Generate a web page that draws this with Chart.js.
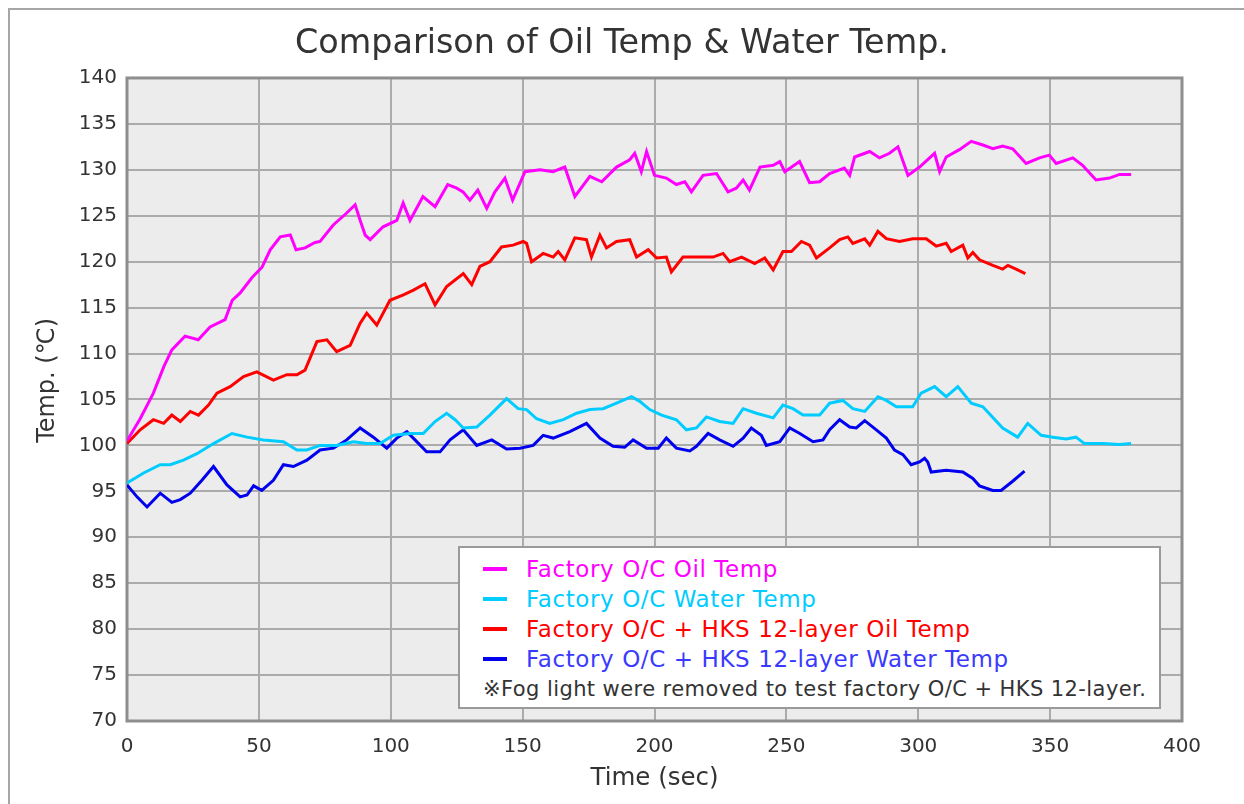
<!DOCTYPE html>
<html>
<head>
<meta charset="utf-8">
<script src="https://cdn.jsdelivr.net/npm/chart.js@4"></script>
<style>
  html, body { margin: 0; padding: 0; background: #fff; overflow: hidden; }
  #wrap { position: relative; width: 1244px; height: 804px; }
  #chart { position: absolute; left: 0; top: 0; }
  #frame { position: absolute; left: 8px; top: 8px; width: 1300px; height: 900px; border: 2px solid #a6a6a6; box-sizing: border-box; pointer-events: none; }
  #legend { position: absolute; left: 458px; top: 546px; width: 703px; height: 163px; box-sizing: border-box;
            border: 2px solid #9a9a9a; background: #fff; font-family: 'DejaVu Sans', sans-serif; font-size: 23px;
            letter-spacing: 0.6px; padding: 6px 0 0 23px; }
  .row { height: 30px; white-space: nowrap; display: flex; align-items: center; }
  .mark { display: inline-block; width: 24px; height: 4px; margin-right: 19px; }
  .note { color: #333; font-size: 21px; letter-spacing: 0.42px; }
</style>
</head>
<body>
<div id="wrap">
  <canvas id="chart" width="1244" height="804"></canvas>
  <div id="legend"></div>
  <div id="frame"></div>
</div>
<script>
const titleText = 'Comparison of Oil Temp & Water Temp.';
const xTitle = 'Time (sec)';
const yTitle = 'Temp. (\u2103)';
const noteText = '\u203BFog light were removed to test factory O/C + HKS 12-layer.';

const seriesNames = [
  'Factory O/C Oil Temp',
  'Factory O/C Water Temp',
  'Factory O/C + HKS 12-layer Oil Temp',
  'Factory O/C + HKS 12-layer Water Temp'
];
const seriesColors = ['#ff00ff', '#00ccff', '#ff0000', '#0000ee'];
const legendTextColors = ['#ff00ff', '#00ccff', '#ff0000', '#3a3aff'];

const oilFactoryTime = [0, 5, 10, 14, 17, 22, 27, 31.5, 37.2, 39.9,
  42.9, 47.5, 51.2, 54.3, 58.1, 61.9, 64.1, 67.5, 71.3, 73.2,
  78.2, 83.3, 86.5, 88.4, 90.3, 92.2, 97.1, 102.3, 104.7, 107.3,
  112.2, 116.8, 121.6, 125, 127.4, 130, 133, 136.4, 139.5, 143.3,
  146.2, 150.9, 156.6, 161.5, 166, 169.8, 175.5, 180, 185.6, 190.6,
  192.5, 195, 197, 200, 204.5, 208.3, 211.5, 214, 218.4, 223.5,
  227.9, 231, 233.6, 236, 240, 245, 247.5, 249.4, 255, 258.8,
  262.6, 266.4, 272, 274, 275.9, 281.6, 285.3, 289.1, 292.3, 296.1,
  300.5, 306.2, 308.1, 310.6, 315.6, 320.1, 324.5, 328.3, 332, 335.8,
  340.9, 346, 349.7, 352.3, 358.6, 362.3, 367.4, 372.5, 376.3, 380.7];
const oilFactoryTemp = [100.5, 102.9, 105.7, 108.6, 110.4, 111.9, 111.5, 112.9, 113.7, 115.8,
  116.6, 118.3, 119.4, 121.3, 122.7, 122.9, 121.3, 121.5, 122.1, 122.2,
  124.0, 125.3, 126.2, 124.5, 122.9, 122.4, 123.8, 124.5, 126.4, 124.5,
  127.1, 126.0, 128.4, 128.0, 127.6, 126.7, 127.8, 125.8, 127.6, 129.1,
  126.7, 129.8, 130.0, 129.8, 130.3, 127.1, 129.3, 128.7, 130.3, 131.1,
  131.8, 129.8, 132.0, 129.4, 129.1, 128.4, 128.7, 127.6, 129.4, 129.6,
  127.6, 128.0, 128.9, 127.8, 130.3, 130.5, 130.9, 129.8, 130.9, 128.6,
  128.7, 129.6, 130.2, 129.4, 131.4, 132.0, 131.3, 131.8, 132.5, 129.4,
  130.3, 131.8, 129.8, 131.4, 132.2, 133.1, 132.7, 132.3, 132.6, 132.3,
  130.7, 131.3, 131.6, 130.7, 131.3, 130.5, 128.9, 129.1, 129.5, 129.5];

const waterFactoryTime = [0, 6.3, 12.6, 16.4, 21.4, 26.5, 32.8, 39.8, 45.5, 51.7,
  59.3, 64.4, 68.2, 73.2, 79.5, 85.8, 90.9, 95.9, 101, 107.3,
  112.3, 116.8, 121.2, 124.4, 127.5, 132.6, 137.6, 143.9, 148.3, 151.5,
  155.3, 160.3, 165.4, 170.5, 175.5, 180.5, 185.6, 191.3, 194.4, 198.2,
  202.7, 208.3, 212.1, 215.9, 219.7, 224.7, 229.8, 233.6, 238.6, 245,
  248.7, 252.5, 256.3, 262.6, 266.4, 271.4, 275.2, 279.7, 284.7, 287.9,
  291.7, 297.9, 301.1, 306.2, 310.6, 315, 320.1, 324.5, 332, 337.7,
  341.5, 346.6, 351, 356.1, 359.8, 363, 369.9, 376.3, 380.7];
const waterFactoryTemp = [95.9, 97.0, 97.9, 97.9, 98.4, 99.1, 100.2, 101.3, 100.9, 100.6,
  100.4, 99.5, 99.5, 100.0, 100.0, 100.4, 100.2, 100.2, 101.1, 101.3,
  101.3, 102.6, 103.5, 102.8, 101.9, 102.0, 103.3, 105.1, 104.0, 103.9,
  102.9, 102.4, 102.8, 103.5, 103.9, 104.0, 104.6, 105.3, 104.8, 103.9,
  103.3, 102.8, 101.7, 101.9, 103.1, 102.6, 102.4, 104.0, 103.5, 103.0,
  104.4, 104.0, 103.3, 103.3, 104.6, 104.9, 104.0, 103.7, 105.3, 104.9,
  104.2, 104.2, 105.7, 106.4, 105.3, 106.4, 104.6, 104.2, 101.9, 100.9,
  102.4, 101.1, 100.9, 100.7, 100.9, 100.2, 100.2, 100.1, 100.2];

const oilHksTime = [0, 5, 10, 13.9, 17, 20.2, 24, 27.1, 30.9, 34.1,
  39.1, 44.2, 49.2, 55.5, 60.6, 64.4, 67.5, 72, 75.8, 79.5,
  84.6, 88.4, 90.9, 94.7, 99.7, 104.8, 108.6, 113, 116.8, 121.2,
  127.5, 130.7, 133.8, 137.6, 142, 146.4, 150.2, 151.5, 153.4, 157.8,
  161.6, 163.5, 166, 169.8, 174.2, 176.1, 179.3, 181.8, 185.6, 190.6,
  193.2, 197.6, 200.8, 204.5, 206.4, 210.8, 217.2, 222.2, 226, 228.5,
  233, 238, 241.8, 245, 248.7, 251.9, 255.7, 258.8, 261.4, 266.4,
  270.2, 273.3, 275.2, 279.7, 281.6, 284.7, 287.9, 292.9, 297.9, 303,
  306.8, 310.6, 312.5, 316.9, 318.8, 320.7, 323.2, 328.3, 332, 334,
  337.1, 340.6];
const oilHksTemp = [100.2, 101.7, 102.8, 102.4, 103.3, 102.6, 103.7, 103.3, 104.4, 105.7,
  106.4, 107.5, 108.0, 107.1, 107.7, 107.7, 108.2, 111.3, 111.5, 110.2,
  110.9, 113.3, 114.4, 113.1, 115.8, 116.4, 116.9, 117.6, 115.3, 117.3,
  118.7, 117.5, 119.5, 120.0, 121.6, 121.8, 122.2, 122.0, 120.0, 120.9,
  120.5, 121.1, 120.2, 122.6, 122.4, 120.5, 122.9, 121.5, 122.2, 122.4,
  120.5, 121.3, 120.4, 120.5, 118.9, 120.5, 120.5, 120.5, 120.9, 120.0,
  120.5, 119.8, 120.4, 119.1, 121.1, 121.1, 122.2, 121.8, 120.4, 121.5,
  122.4, 122.7, 122.0, 122.5, 121.8, 123.3, 122.5, 122.2, 122.5, 122.5,
  121.7, 122.0, 121.1, 121.8, 120.4, 121.0, 120.2, 119.6, 119.2, 119.6,
  119.2, 118.7];

const waterHksTime = [0, 3.8, 7.6, 12.6, 17, 20.2, 24, 28.4, 32.8, 37.9,
  42.9, 45.5, 48, 51.1, 55.5, 59.3, 63.1, 68.2, 73.2, 78.3,
  83.3, 88.4, 93.4, 98.5, 102.3, 106.1, 109.2, 113.6, 118.7, 122.5,
  127.5, 132.6, 138.3, 143.9, 149, 154, 157.8, 161.6, 167.9, 174.2,
  179.3, 184.3, 188.7, 191.9, 197, 201.4, 204.5, 208.3, 213.4, 215.9,
  220.3, 224.7, 229.8, 233.6, 236.7, 240.5, 242.4, 247.5, 251.3, 255.1,
  260.1, 263.9, 266.4, 270.2, 274, 276.5, 279.7, 284.1, 287.9, 291,
  294.2, 297.3, 300.5, 302.4, 303.6, 304.9, 310.6, 316.9, 320.7, 323.2,
  328.3, 331.4, 335.8, 340.3];
const waterHksTemp = [95.7, 94.4, 93.3, 94.8, 93.8, 94.1, 94.8, 96.2, 97.7, 95.7,
  94.4, 94.6, 95.6, 95.1, 96.2, 97.9, 97.7, 98.4, 99.5, 99.7,
  100.6, 101.9, 100.9, 99.7, 100.8, 101.5, 100.6, 99.3, 99.3, 100.6,
  101.7, 100.0, 100.6, 99.6, 99.7, 100.0, 101.1, 100.8, 101.5, 102.4,
  100.8, 99.9, 99.8, 100.6, 99.7, 99.7, 100.8, 99.7, 99.4, 99.9,
  101.3, 100.6, 99.9, 100.8, 101.9, 101.1, 100.0, 100.4, 101.9, 101.3,
  100.4, 100.6, 101.7, 102.8, 102.0, 101.9, 102.7, 101.7, 100.8, 99.5,
  99.0, 97.9, 98.2, 98.6, 98.2, 97.1, 97.3, 97.1, 96.4, 95.6,
  95.1, 95.1, 96.1, 97.2];

const xMin = 0, xMax = 400, xStep = 50;
const yMin = 70, yMax = 140, yStep = 5;

const seriesTimes = [oilFactoryTime, waterFactoryTime, oilHksTime, waterHksTime];
const seriesTemps = [oilFactoryTemp, waterFactoryTemp, oilHksTemp, waterHksTemp];

const FONT = "'DejaVu Sans', 'Noto Sans CJK JP', sans-serif";

const plotFrame = {
  id: 'plotFrame',
  beforeDraw(chart) {
    const { ctx, chartArea: a } = chart;
    ctx.save();
    ctx.fillStyle = '#ececec';
    ctx.fillRect(a.left, a.top, a.right - a.left, a.bottom - a.top);
    ctx.restore();
  },
  beforeDatasetsDraw(chart) {
    const { ctx, chartArea: a } = chart;
    ctx.save();
    ctx.strokeStyle = '#8e8e8e';
    ctx.lineWidth = 3;
    ctx.strokeRect(a.left, a.top, a.right - a.left, a.bottom - a.top);
    ctx.restore();
  }
};

new Chart(document.getElementById('chart'), {
  type: 'line',
  data: {
    datasets: seriesNames.map((name, k) => ({
      label: name,
      data: seriesTimes[k].map((t, i) => ({ x: t, y: seriesTemps[k][i] })),
      borderColor: seriesColors[k],
      backgroundColor: seriesColors[k],
      borderWidth: 3,
      pointRadius: 0,
      tension: 0,
      fill: false
    }))
  },
  options: {
    responsive: false,
    animation: false,
    layout: { padding: 0 },
    plugins: {
      legend: { display: false },
      tooltip: { enabled: false },
      title: {
        display: true, text: titleText, color: '#333',
        font: { family: FONT, size: 33.4, weight: 'normal' },
        padding: { top: 24, bottom: 13.9 }
      }
    },
    scales: {
      x: {
        type: 'linear', min: xMin, max: xMax,
        ticks: { stepSize: xStep, color: '#333', font: { family: FONT, size: 20 }, padding: 14 },
        grid: { color: '#ababab', lineWidth: 2, drawTicks: false },
        border: { display: false },
        title: { display: true, text: xTitle, color: '#333', font: { family: FONT, size: 24.5 }, padding: { top: 0, bottom: 10.5 } },
        afterFit(s) { s.height = 83; }
      },
      y: {
        type: 'linear', min: yMin, max: yMax,
        ticks: { stepSize: yStep, color: '#333', font: { family: FONT, size: 20 }, padding: 10 },
        grid: { color: '#ababab', lineWidth: 2, drawTicks: false },
        border: { display: false },
        title: { display: true, text: '     ' + yTitle, color: '#333', font: { family: FONT, size: 24 }, padding: { top: 33, bottom: 0 } },
        afterFit(s) { s.width = 127; }
      },
      rightGap: {
        type: 'linear', position: 'right', display: true,
        grid: { display: false, drawTicks: false },
        ticks: { display: false },
        border: { display: false },
        afterFit(s) { s.width = 62; }
      }
    }
  },
  plugins: [plotFrame]
});

const legend = document.getElementById('legend');
seriesNames.forEach((name, k) => {
  const row = document.createElement('div');
  row.className = 'row';
  const mark = document.createElement('span');
  mark.className = 'mark';
  mark.style.background = seriesColors[k];
  const txt = document.createElement('span');
  txt.textContent = name;
  txt.style.color = legendTextColors[k];
  row.appendChild(mark);
  row.appendChild(txt);
  legend.appendChild(row);
});
const noteRow = document.createElement('div');
noteRow.className = 'row note';
noteRow.textContent = noteText;
legend.appendChild(noteRow);
</script>
</body>
</html>
